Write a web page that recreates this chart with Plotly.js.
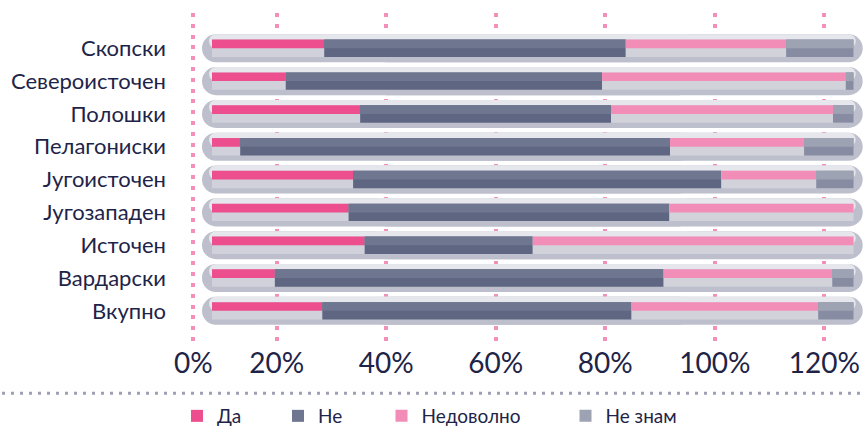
<!DOCTYPE html>
<html>
<head>
<meta charset="utf-8">
<script src="https://cdn.plot.ly/plotly-3.0.1.min.js"></script>
<style>html,body{margin:0;padding:0;background:#fff;}#chart{width:863px;height:429px;}</style>
</head>
<body>
<div id="chart"></div>
<script>
// ---- data ----
const categories = ['Скопски','Североисточен','Полошки','Пелагониски','Југоисточен','Југозападен','Источен','Вардарски','Вкупно'];
const seriesNames = ['Да','Не','Недоволно','Не знам'];
const da        = [17.5, 11.5, 23.1,  4.4, 22.0, 21.3, 23.8,  9.8, 17.2];
const ne        = [47.0, 49.3, 39.1, 67.0, 57.4, 50.0, 26.2, 60.6, 48.2];
const nedovolno = [25.0, 38.0, 34.6, 20.9, 14.8, 28.7, 50.0, 26.3, 29.1];
const neznam    = [10.5,  1.2,  3.2,  7.7,  5.8,  0.0,  0.0,  3.3,  5.5];
const tickLabels = ['0%','20%','40%','60%','80%','100%','120%'];

// ---- styling ----
const series = [da, ne, nedovolno, neznam];
const topColors = ['#ec4e8e','#6e7690','#f28db8','#9ea3b4'];
const bottomColors = ['#d0d1da','#5e6682','#d1d2da','#878ca2'];
const textColor = '#1e2448';
const FONT = 'Lato, "Open Sans", sans-serif';

const pxPerUnit = 6.415;               // bar axis scale
const total = categories.map((c,i)=>series.reduce((s,a)=>s+a[i],0));
const padL = 10/pxPerUnit, padR = 9.2/pxPerUnit;
const pillH = 0.854, innerH = 0.53;
const capInset = 7/pxPerUnit;

const traces = [];
function pill(baseFrac, endFn, w, off, color) {
  const base = total.map(t=>t*baseFrac);
  traces.push({type:'bar', orientation:'h', y:categories, x:total.map((t,i)=>endFn(t)-base[i]), base:base,
    width:w, offset:off, marker:{color:color, cornerradius:'50%', line:{width:0}},
    hoverinfo:'skip', showlegend:false, xaxis:'x', yaxis:'y'});
}
// background track: dark full pill, light top half
pill(0.75, t=>-padL, pillH, -pillH/2, '#bdc0cc');
pill(0.25, t=>t+padR, pillH, -pillH/2, '#bdc0cc');
pill(0.75, t=>-padL+capInset, pillH/2, -pillH/2, '#e6e7ec');
pill(0.25, t=>t+padR-capInset, pillH/2, -pillH/2, '#e6e7ec');

const legendIds = ['legend','legend2','legend3','legend4'];
let cum = categories.map(()=>0);
series.forEach((vals,k)=>{
  const base = cum.slice();
  traces.push({type:'bar', orientation:'h', y:categories, x:vals, base:base,
    width:innerH, offset:-innerH/2, marker:{color:bottomColors[k], line:{width:0}},
    name:seriesNames[k], showlegend:false, hovertemplate:'%{y}: %{x}%<extra>'+seriesNames[k]+'</extra>'});
  traces.push({type:'bar', orientation:'h', y:categories, x:vals, base:base,
    width:innerH/2, offset:-innerH/2, marker:{color:topColors[k], line:{width:0}},
    name:seriesNames[k], legend:legendIds[k], showlegend:true,
    hovertemplate:'%{y}: %{x}%<extra>'+seriesNames[k]+'</extra>'});
  cum = cum.map((c,i)=>c+vals[i]);
});
// empty trace so the percentage axis (x2) is drawn
traces.push({type:'scatter', mode:'markers', x:[], y:[], xaxis:'x2', yaxis:'y', showlegend:false, hoverinfo:'skip'});

const plotL = 172, plotW = 691, plotT = 13, plotH = 329;
const legendPx = [177, 278, 381.5, 565.5];
const legendY = (plotT + plotH - 416) / plotH;
const sepY = (plotT + plotH - 393.3) / plotH;
const legendCommon = {orientation:'h', xanchor:'left', yanchor:'middle', y:legendY,
  bgcolor:'rgba(0,0,0,0)', borderwidth:0, font:{family:FONT, size:19, color:textColor}};

const layout = {
  width:863, height:429,
  margin:{l:plotL, r:0, t:plotT, b:429-plotT-plotH, pad:0, autoexpand:false},
  paper_bgcolor:'#ffffff', plot_bgcolor:'rgba(0,0,0,0)',
  barmode:'overlay',
  font:{family:FONT, color:textColor},
  xaxis:{range:[-40/pxPerUnit, -40/pxPerUnit + plotW/pxPerUnit], showgrid:false, zeroline:false,
    showticklabels:false, showline:false, fixedrange:true},
  xaxis2:{overlaying:'x', anchor:'y', side:'bottom', range:[0.88, 127.07],
    tickmode:'array', tickvals:[4.77,20,40,60,80,100,120], ticktext:tickLabels,
    showgrid:true, gridcolor:'#f48fba', gridwidth:4, griddash:'4px,6.8px',
    zeroline:false, showline:false, ticks:'', ticklabelstandoff:2,
    tickfont:{family:FONT, size:28, color:textColor}},
  yaxis:{type:'category', categoryorder:'array', categoryarray:categories,
    range:[8.95, -1.076], showgrid:false, zeroline:false, showline:false, ticks:'',
    ticklabelstandoff:5, tickfont:{family:FONT, size:22, color:textColor}},
  shapes:[{type:'line', xref:'paper', yref:'paper',
    x0:(2-plotL)/plotW, x1:1, y0:sepY, y1:sepY,
    line:{color:'#9ea1b5', width:3, dash:'3px,6px'}}],
  showlegend:true
};
legendIds.forEach((id,k)=>{
  layout[id] = Object.assign({}, legendCommon, {x:(legendPx[k]-plotL)/plotW});
});

Plotly.newPlot('chart', traces, layout, {displayModeBar:false, responsive:false});
</script>
</body>
</html>
